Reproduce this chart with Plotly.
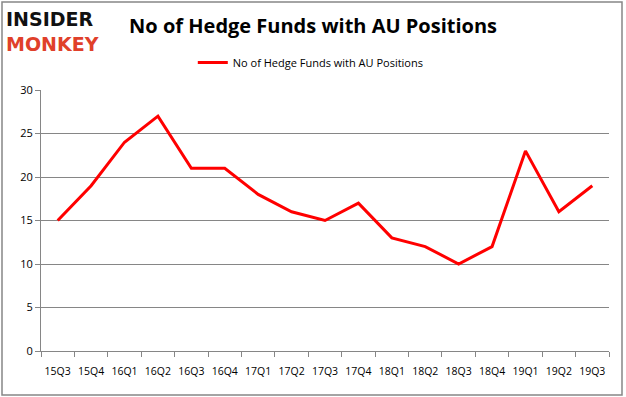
import plotly.graph_objects as go

quarters = ["15Q3", "15Q4", "16Q1", "16Q2", "16Q3", "16Q4", "17Q1", "17Q2", "17Q3",
            "17Q4", "18Q1", "18Q2", "18Q3", "18Q4", "19Q1", "19Q2", "19Q3"]
funds = [15, 19, 24, 27, 21, 21, 18, 16, 15, 17, 13, 12, 10, 12, 23, 16, 19]
series_name = "No of Hedge Funds with AU Positions"
y_ticks = [0, 5, 10, 15, 20, 25, 30]

fig = go.Figure()
fig.add_trace(go.Scatter(
    x=quarters, y=funds, mode="lines", name=series_name,
    line=dict(color="#ff0000", width=3),
))

fig.update_layout(
    width=626, height=397,
    margin=dict(l=41, r=17, t=90, b=46, autoexpand=False),
    paper_bgcolor="white", plot_bgcolor="white",
    font=dict(family="Open Sans, Liberation Sans, sans-serif", size=11, color="#000000"),
    title=dict(text="<b>No of Hedge Funds with AU Positions</b>", x=0.479, xanchor="center",
               xref="paper", y=0.935, yanchor="middle",
               font=dict(family="Open Sans, sans-serif", size=20, color="#000000")),
    showlegend=True,
    legend=dict(orientation="h", x=0.475, xanchor="center", y=1.105, yanchor="middle",
                font=dict(size=11), bgcolor="rgba(0,0,0,0)", itemwidth=30),
    xaxis=dict(type="category", range=[-0.5, 16.5], showgrid=False, automargin=False,
               showline=True, linecolor="#868686", linewidth=1, tickangle=0,
               ticks="outside", tickson="boundaries", ticklen=5, tickcolor="#868686",
               ticklabelstandoff=10,
               tickfont=dict(size=10.5), fixedrange=True),
    yaxis=dict(range=[0, 30], tickvals=y_ticks, showgrid=True, gridcolor="#868686",
               gridwidth=1, showline=True, linecolor="#868686", linewidth=1, automargin=False,
               ticks="outside", ticklen=5, tickcolor="#868686", zeroline=False,
               tickfont=dict(size=11), fixedrange=True),
)

# outer frame
fig.add_shape(type="rect", xref="paper", yref="paper",
              x0=-39/568, x1=1 + 13/568, y0=-44/261, y1=1 + 88/261,
              line=dict(color="#868686", width=1.5), layer="below")

# logo
fig.add_annotation(
    text="<b>INSIDER</b><br><b><span style='color:#e0402a'>MONKEY</span></b>",
    xref="paper", yref="paper", x=-37/568, y=1 + 59/261, xanchor="left", yanchor="middle",
    align="left", showarrow=False,
    font=dict(family="DejaVu Sans", size=19, color="#111111"))

fig.write_html("out.html", config={"displayModeBar": False},
               post_script="document.body.style.margin='0';")
